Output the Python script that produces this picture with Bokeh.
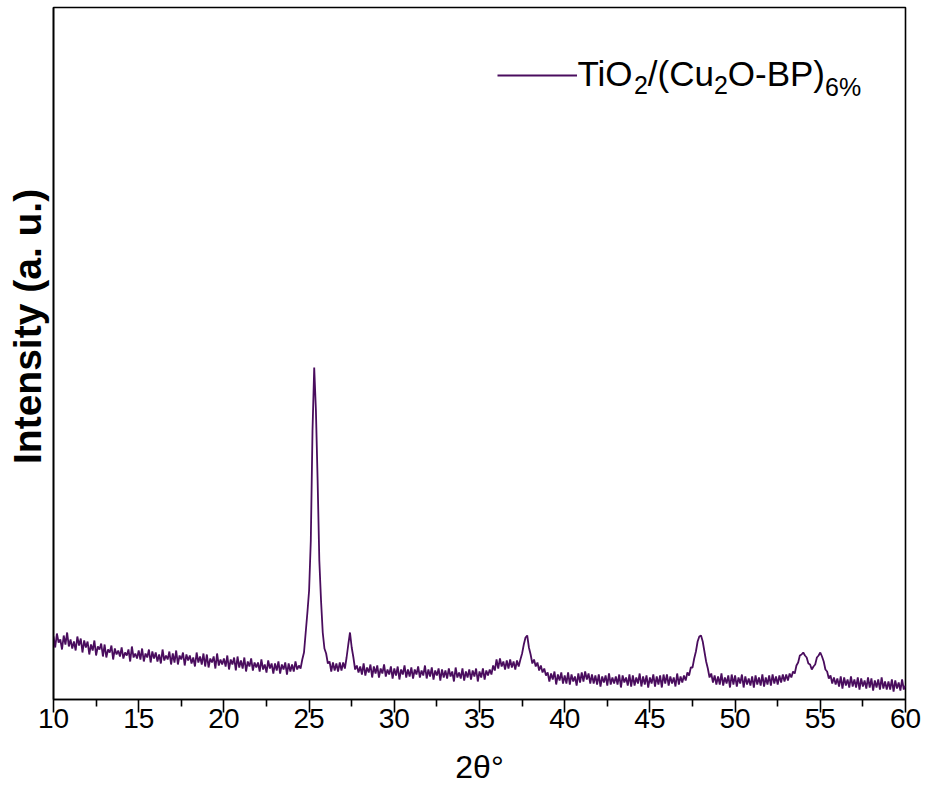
from bokeh.plotting import figure
from bokeh.models import Range1d, FixedTicker, Label, Legend, LegendItem, ColumnDataSource
from bokeh.embed import file_html
from bokeh.resources import INLINE

# ---- data ----
TWO_THETA_START = 10.0
TWO_THETA_STEP = 0.1
intensity = [
    63, 52, 66, 57, 60, 50, 64, 55, 67, 53,
    60, 51, 58, 49, 63, 54, 61, 47, 59, 52,
    58, 45, 55, 49, 59, 44, 53, 50, 56, 43,
    55, 42, 50, 47, 54, 40, 51, 45, 49, 43,
    52, 41, 47, 44, 50, 38, 53, 42, 46, 41,
    49, 40, 51, 38, 46, 42, 50, 37, 48, 41,
    47, 38, 45, 36, 50, 39, 44, 40, 48, 35,
    46, 37, 49, 35, 44, 40, 47, 34, 45, 39,
    44, 36, 42, 33, 47, 37, 43, 35, 46, 33,
    45, 32, 41, 37, 43, 31, 46, 34, 40, 35,
    41, 33, 44, 30, 40, 35, 42, 29, 43, 32,
    39, 31, 42, 28, 38, 33, 41, 29, 37, 32,
    37, 28, 40, 30, 35, 27, 39, 31, 36, 26,
    36, 29, 38, 26, 35, 30, 37, 25, 36, 28,
    35, 28, 38, 30, 34, 31, 40, 47, 67, 87,
    109, 159, 269, 332, 289, 219, 139, 99, 67, 51,
    46, 36, 38, 28, 37, 29, 36, 28, 37, 29,
    37, 31, 42, 55, 67, 52, 42, 30, 34, 27,
    33, 25, 36, 24, 32, 27, 35, 22, 33, 26,
    34, 22, 31, 26, 35, 23, 30, 25, 33, 21,
    31, 24, 33, 20, 30, 25, 34, 22, 30, 23,
    32, 21, 30, 25, 33, 22, 29, 24, 34, 21,
    30, 23, 32, 20, 29, 24, 31, 19, 30, 22,
    29, 21, 31, 23, 28, 18, 32, 22, 27, 21,
    31, 19, 28, 22, 30, 20, 29, 23, 31, 18,
    28, 22, 31, 20, 29, 24, 30, 25, 34, 29,
    40, 31, 41, 33, 38, 30, 39, 31, 40, 32,
    38, 30, 39, 33, 40, 46, 55, 62, 64, 52,
    45, 36, 40, 33, 37, 29, 34, 27, 31, 24,
    27, 18, 26, 20, 28, 15, 25, 19, 27, 16,
    24, 16, 27, 15, 25, 18, 23, 14, 26, 17,
    27, 18, 28, 20, 26, 16, 25, 16, 24, 15,
    25, 13, 23, 17, 24, 14, 26, 15, 22, 16,
    23, 15, 25, 12, 24, 17, 22, 14, 25, 13,
    24, 14, 22, 16, 26, 13, 23, 15, 24, 12,
    22, 16, 25, 13, 23, 15, 24, 12, 25, 16,
    25, 14, 23, 16, 22, 13, 26, 15, 23, 17,
    24, 19, 27, 24, 32, 32, 41, 48, 58, 63,
    64, 58, 48, 38, 31, 22, 26, 17, 24, 15,
    23, 15, 26, 14, 22, 16, 24, 12, 25, 15,
    24, 13, 22, 16, 25, 12, 23, 15, 21, 14,
    23, 12, 24, 15, 22, 14, 25, 13, 22, 15,
    24, 14, 25, 16, 23, 15, 24, 17, 25, 18,
    25, 19, 26, 22, 28, 26, 34, 37, 44, 45,
    47, 44, 42, 36, 35, 30, 33, 35, 42, 44,
    47, 43, 38, 30, 28, 21, 24, 16, 22, 15,
    21, 13, 23, 11, 22, 14, 20, 12, 23, 13,
    20, 12, 22, 10, 21, 13, 19, 11, 22, 12,
    21, 9, 19, 12, 20, 10, 22, 11, 18, 10,
    18, 10, 20, 8, 19, 11, 17, 9, 20, 10,
    14,
]
two_theta = [round(TWO_THETA_START + i * TWO_THETA_STEP, 1) for i in range(len(intensity))]

x_major_ticks = [10, 15, 20, 25, 30, 35, 40, 45, 50, 55, 60]
x_minor_ticks = [12.5, 17.5, 22.5, 27.5, 32.5, 37.5, 42.5, 47.5, 52.5, 57.5]

x_label = "2θ°"
y_label = "Intensity (a. u.)"
series_name = "TiO2/(Cu2O-BP)6%"
# legend text pieces: (text, is_subscript)
legend_parts = [("TiO", False), ("2", True), ("/(Cu", False), ("2", True), ("O-BP)", False), ("6%", True)]

LINE_COLOR = "#4a0d5e"
FONT = "Liberation Sans"

# ---- figure ----
p = figure(
    frame_width=852, frame_height=692,
    x_range=Range1d(10, 60), y_range=Range1d(0, 692),
    output_backend="svg", toolbar_location=None,
    min_border_left=53, min_border_right=21, min_border_top=7, min_border_bottom=94,
    background_fill_color="white", border_fill_color="white",
)
p.grid.visible = False
p.outline_line_color = "black"
p.outline_line_width = 1.6

src = ColumnDataSource(dict(x=two_theta, y=intensity))
r = p.line("x", "y", source=src, line_color=LINE_COLOR, line_width=1.8)

# x axis
xa = p.xaxis[0]
xa.ticker = FixedTicker(ticks=x_major_ticks, minor_ticks=x_minor_ticks)
xa.axis_label = x_label
xa.axis_label_text_font = FONT
xa.axis_label_text_font_size = "32px"
xa.axis_label_text_font_style = "normal"
xa.axis_label_text_color = "black"
xa.axis_label_standoff = 18
xa.major_label_text_font = FONT
xa.major_label_text_font_size = "28px"
xa.major_label_text_color = "black"
xa.major_label_standoff = -4
xa.axis_line_width = 1.6
xa.axis_line_color = "black"
xa.major_tick_line_width = 1.6
xa.minor_tick_line_width = 1.6
xa.major_tick_line_color = "black"
xa.minor_tick_line_color = "black"
xa.major_tick_in = 0
xa.major_tick_out = 13
xa.minor_tick_in = 0
xa.minor_tick_out = 7

# y axis
ya = p.yaxis[0]
ya.ticker = FixedTicker(ticks=[], minor_ticks=[])
ya.major_tick_in = 0
ya.major_tick_out = 0
ya.minor_tick_in = 0
ya.minor_tick_out = 0
ya.major_label_standoff = 0
ya.major_label_text_font_size = "0px"
ya.axis_line_width = 1.6
ya.axis_line_color = "black"
ya.axis_label = "\u00a0" * 5 + y_label
ya.axis_label_text_font = FONT
ya.axis_label_text_font_size = "39px"
ya.axis_label_text_font_style = "bold"
ya.axis_label_text_color = "black"
ya.axis_label_standoff = 5

# legend key (line) drawn by Bokeh's legend
legend = Legend(
    items=[LegendItem(label=" ", renderers=[r])],
    location=(444, 609),
    glyph_width=80, glyph_height=30,
    label_width=0, label_height=30, label_standoff=0,
    label_text_font_size="1px",
    padding=0, margin=0, spacing=0,
    border_line_alpha=0, background_fill_alpha=0,
)
p.add_layout(legend)

# legend text with subscripts
MAIN_SIZE = 35
SUB_SIZE = 25
offsets = [0, 56.4, 70.3, 136.4, 150.3, 247.5]
sub_y = [None, 615, None, 615, None, 613]
for (txt, is_sub), off, sy in zip(legend_parts, offsets, sub_y):
    p.add_layout(Label(
        x=40.75, y=(sy if is_sub else 626), x_offset=off,
        text=txt, text_font=FONT,
        text_font_size=f"{SUB_SIZE if is_sub else MAIN_SIZE}px",
        text_baseline="alphabetic", text_align="left", text_color="black",
    ))

html = file_html(p, INLINE)
open("out.html", "w").write(html)
